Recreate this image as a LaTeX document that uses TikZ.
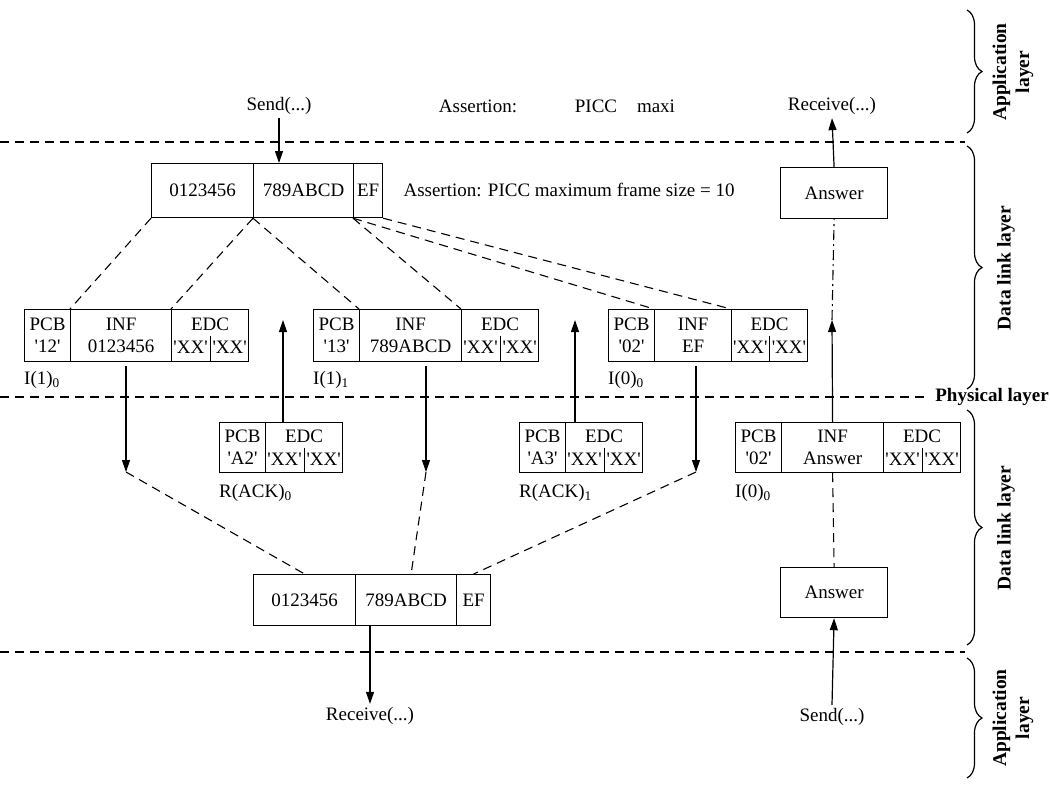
\documentclass[tikz,border=0pt]{standalone}
\usepackage{fontspec}
\setmainfont{Liberation Serif}[Ligatures=TeXOff]
\usetikzlibrary{calc,arrows.meta,decorations.pathreplacing}
\newcommand\qq{\char"0027\relax}
\newcommand\cell[6]{\node[cellb, minimum width=#3-#2, minimum height=#5-#4] (#1) at (#2,#4) {#6};}
\newcommand\edcparts[1]{%
  \draw[line width=1.2pt] (#1.center) -- (#1.south);
  \node at ([yshift=11pt]#1.center) {EDC};
  \node at ($(#1.center)!0.5!(#1.west)+(0,12)$) {\qq XX\qq};
  \node at ($(#1.center)!0.5!(#1.east)+(0,12)$) {\qq XX\qq};}
\newcommand\iframe[9]{%
  \cell{#1p}{#2}{#3}{#6}{#7}{PCB\\#8}
  \cell{#1i}{#3}{#4}{#6}{#7}{INF\\#9}
  \cell{#1e}{#4}{#5}{#6}{#7}{}
  \edcparts{#1e}}
\newcommand\rframe[7]{%
  \cell{#1p}{#2}{#3}{#5}{#6}{PCB\\#7}
  \cell{#1e}{#3}{#4}{#5}{#6}{}
  \edcparts{#1e}}
\begin{document}
\begin{tikzpicture}[x=1pt,y=-1pt,
  every node/.style={font=\fontsize{19}{22}\selectfont},
  cellb/.style={draw, line width=1.2pt, inner sep=0pt, anchor=north west, align=center},
  dl/.style={line width=1.1pt, dash pattern=on 9pt off 6pt},
  dd/.style={line width=1.1pt, dash pattern=on 10pt off 4pt on 2pt off 4pt},
  ar/.style={line width=1.2pt, -{Triangle[length=12pt,width=8pt]}},
  lbl/.style={anchor=west, inner sep=0pt},
  br/.style={line width=1.2pt, decorate, decoration={brace, amplitude=15pt}},
  lay/.style={font=\fontsize{19.5}{21}\selectfont\bfseries, rotate=90, align=center},
  lay2/.style={font=\fontsize{19.5}{23}\selectfont\bfseries, rotate=90, align=center}]
\useasboundingbox (0,0) rectangle (1050,796);
% layer separators
\draw[dl] (0,142) -- (965,142);
\draw[dl] (0,397) -- (925,397);
\draw[dl] (0,652) -- (965,652);
% top texts
\node (send1) at (279,106) {Send(...)};
\node (as1) at (478,106) {Assertion:};
\node (picc) at (596,106) {PICC};
\node (maxi) at (656,106) {maxi};
\node (recv1) at (832,106) {Receive(...)};
% top frame
\cell{t1}{151}{253}{163}{217}{0123456}
\cell{t2}{253}{353}{163}{217}{789ABCD}
\cell{t3}{353}{382}{163}{217}{EF}
\node[anchor=west] (assert) at (400,190) {Assertion: PICC maximum frame size = 10};
\draw[ar] (send1.south) -- (send1.south |- t1.north);
\cell{ansT}{780}{887}{167}{218}{Answer}
\draw[ar] (ansT.north) -- (recv1.south);
% I-block row
\iframe{a1}{24}{70}{171}{248}{309}{361}{\qq12\qq}{0123456}
\iframe{a2}{313}{359}{461}{538}{309}{361}{\qq13\qq}{789ABCD}
\iframe{a3}{608}{654}{731}{807}{309}{361}{\qq02\qq}{EF}
\node[lbl] (l1) at (24,380) {I(1)\textsubscript{0}};
\node[lbl] (l2) at (313,380) {I(1)\textsubscript{1}};
\node[lbl] (l3) at (608,380) {I(0)\textsubscript{0}};
% splitting
\draw[dl] (t1.south west) -- (a1i.north west);
\draw[dl] (t2.south west) -- (a1e.north west);
\draw[dl] (t2.south west) -- (a2i.north west);
\draw[dl] (t3.south west) -- (a2e.north west);
\draw[dl] (t3.south west) -- (a3i.north west);
\draw[dl] (t3.south east) -- (a3e.north west);
% lower row
\rframe{r1}{219}{265}{342}{422}{472}{\qq A2\qq}
\rframe{r2}{519}{565}{642}{422}{472}{\qq A3\qq}
\iframe{a4}{735}{781}{883}{960}{422}{472}{\qq02\qq}{Answer}
\node[lbl] (l4) at (219,493) {R(ACK)\textsubscript{0}};
\node[lbl] (l5) at (519,493) {R(ACK)\textsubscript{1}};
\node[lbl] (l6) at (735,493) {I(0)\textsubscript{0}};
% down arrows
\coordinate (d1s) at (126,366); \coordinate (d1e) at (126,472);
\coordinate (d2s) at (426,366); \coordinate (d2e) at (426,472);
\coordinate (d3s) at (696,366); \coordinate (d3e) at (696,472);
\draw[ar] (d1s) -- (d1e);
\draw[ar] (d2s) -- (d2e);
\draw[ar] (d3s) -- (d3e);
% up arrows
\coordinate (u1) at (283,320);
\coordinate (u2) at (575,320);
\coordinate (u3) at (832,320);
\draw[ar] (r1e.north -| u1) -- (u1);
\draw[ar] (r2e.north -| u2) -- (u2);
\draw[ar] (a4i.north) -- (u3);
\draw[dd] (u3) -- (ansT.south);
% bottom frame
\cell{b1}{253}{355}{574}{625}{0123456}
\cell{b2}{355}{456}{574}{625}{789ABCD}
\cell{b3}{456}{490}{574}{625}{EF}
\draw[dl] (d1e) -- (b1.north);
\draw[dl] (d2e) -- ($(b2.north)+(5,0)$);
\draw[dl] (d3e) -- (b3.north);
\node (recv2) at (370,716) {Receive(...)};
\draw[ar] (recv2.north |- b1.south) -- (recv2.north);
\cell{ansB}{780}{887}{567}{617}{Answer}
\node (send2) at (832,717) {Send(...)};
\draw[ar] (send2.north) -- (ansB.south);
\draw[dl] (a4i.south) -- (ansB.north);
% braces
\draw[br] (967,10) -- (967,133);
\node[lay2] at (1013,72) {Application\\layer};
\draw[br] (967,146) -- (967,389);
\node[lay] at (1006,268) {Data link layer};
\node[font=\fontsize{19}{20}\selectfont\bfseries, anchor=east, inner sep=0pt] at (1049,397) {Physical layer};
\draw[br] (967,410) -- (967,645);
\node[lay] at (1006,528) {Data link layer};
\draw[br] (967,658) -- (967,778);
\node[lay2] at (1013,718) {Application\\layer};
\end{tikzpicture}
\end{document}
